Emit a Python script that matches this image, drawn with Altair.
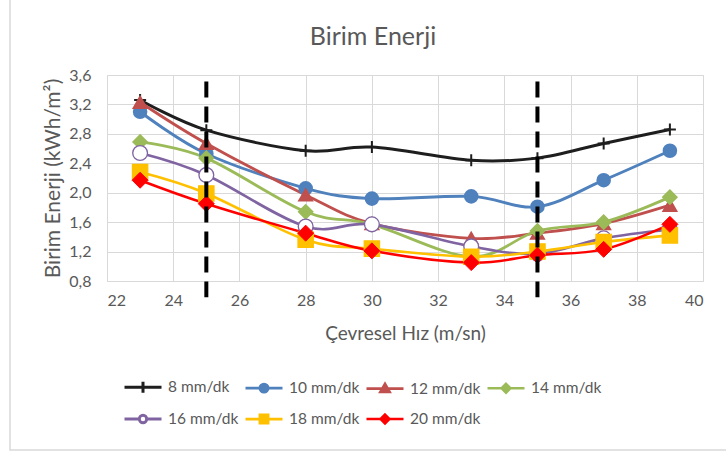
import altair as alt
import pandas as pd

speeds = [23, 25, 28, 30, 33, 35, 37, 39]
series = ["8 mm/dk", "10 mm/dk", "12 mm/dk", "14 mm/dk", "16 mm/dk", "18 mm/dk", "20 mm/dk"]
v8 = [3.26, 2.85, 2.57, 2.62, 2.44, 2.47, 2.67, 2.86]
v10 = [3.10, 2.53, 2.06, 1.92, 1.95, 1.81, 2.17, 2.57]
v12 = [3.23, 2.67, 1.97, 1.58, 1.38, 1.45, 1.58, 1.83]
v14 = [2.69, 2.47, 1.74, 1.57, 1.13, 1.48, 1.60, 1.94]
v16 = [2.54, 2.24, 1.54, 1.57, 1.27, 1.17, 1.38, 1.50]
v18 = [2.28, 1.99, 1.36, 1.24, 1.13, 1.20, 1.33, 1.42]
v20 = [2.17, 1.85, 1.45, 1.21, 1.05, 1.15, 1.23, 1.57]
limits = [25, 35]
y_ticks = [0.8, 1.2, 1.6, 2.0, 2.4, 2.8, 3.2, 3.6]
x_ticks = [22, 24, 26, 28, 30, 32, 34, 36, 38, 40]

values = [v8, v10, v12, v14, v16, v18, v20]
rows = []
for s, vals in zip(series, values):
    for sp, v in zip(speeds, vals):
        rows.append({"series": s, "speed": sp, "value": v})
df = pd.DataFrame(rows)
lim_df = pd.DataFrame({"speed": limits})

# styles
colors = ["#1e1e1e", "#4f81bd", "#c0504d", "#9bbb59", "#8064a2", "#ffc000", "#ff0000"]
fills = ["#1e1e1e", "#4f81bd", "#c0504d", "#9bbb59", "#ffffff", "#ffc000", "#ff0000"]
line_widths = [3, 2.5, 2.5, 2.5, 2.5, 4, 4]
marker_shapes = ["M0,-1L0,1M-1,0L1,0", "circle", "triangle-up", "diamond", "circle", "square", "diamond"]
marker_sizes = [144, 256, 240, 180, 180, 256, 200]
marker_strokes = [2, 1, 1, 1, 2, 1, 1]

LINE = "M-1,0L1,0"
legend_shapes = [
    LINE + "M0,-0.3L0,0.3",
    LINE + "M0.22,0A0.22,0.22 0 1,1 -0.22,0A0.22,0.22 0 1,1 0.22,0Z",
    LINE + "M0,-0.26L0.25,0.18L-0.25,0.18Z",
    LINE + "M0,-0.24L0.24,0L0,0.24L-0.24,0Z",
    "M-1,0L-0.2,0M0.2,0L1,0M0.2,0A0.2,0.2 0 1,1 -0.2,0A0.2,0.2 0 1,1 0.2,0Z",
    LINE + "M-0.22,-0.22L0.22,-0.22L0.22,0.22L-0.22,0.22Z",
    LINE + "M0,-0.24L0.24,0L0,0.24L-0.24,0Z",
]
legend_widths = [3, 2.5, 2.5, 2.5, 2.5, 4, 4]

# the legend fills its grid column by column: order entries so rows read 8,10,12,14 / 16,18,20
legend_order = [0, 4, 1, 5, 2, 6, 3]
leg_domain = [series[i] for i in legend_order]
leg_fills = [fills[i] for i in legend_order]
leg_colors = [colors[i] for i in legend_order]
leg_shapes = [legend_shapes[i] for i in legend_order]
leg_widths = [legend_widths[i] for i in legend_order]

FONT = "Lato"
GRAY = "#595959"

x_enc = alt.X("speed:Q", title="Çevresel Hız (m/sn)",
              scale=alt.Scale(domain=[22, 40], nice=False, zero=False),
              axis=alt.Axis(values=x_ticks, tickCount=len(x_ticks), labelPadding=11, titlePadding=16,
                            tickSize=0, domain=False,
                            gridColor="#d9d9d9", labelFontSize=16, titleFontSize=19,
                            labelColor=GRAY, titleColor=GRAY, titleFontWeight="normal",
                            labelFont=FONT, titleFont=FONT, labelOverlap=False))
y_enc = alt.Y("value:Q", title="Birim Enerji (kWh/m²)",
              scale=alt.Scale(domain=[0.8, 3.6], nice=False, zero=False),
              axis=alt.Axis(values=y_ticks, tickCount=len(y_ticks), labelPadding=16, titlePadding=5,
                            tickSize=0, domain=False,
                            labelExpr="replace(format(datum.value, '.1f'), '.', ',')",
                            gridColor="#d9d9d9", labelFontSize=16, titleFontSize=21,
                            labelColor=GRAY, titleColor=GRAY, titleFontWeight="normal",
                            labelFont=FONT, titleFont=FONT, labelOverlap=False))

frame = alt.Chart(alt.Data(values=[{"f": 1}])).mark_rect(
    fillOpacity=0, stroke="#d9d9d9", strokeWidth=1.5
).encode(x=alt.value(-97), x2=alt.value(640), y=alt.value(-77), y2=alt.value(375))

lines = alt.Chart(df).mark_line(interpolate="cardinal").encode(
    x=x_enc, y=y_enc,
    color=alt.Color("series:N", scale=alt.Scale(domain=series, range=colors), legend=None),
    strokeWidth=alt.StrokeWidth("series:N", scale=alt.Scale(domain=series, range=line_widths), legend=None),
    order=alt.Order("speed:Q"),
)

points = alt.Chart(df).mark_point(filled=True, opacity=1).encode(
    x=x_enc, y=y_enc,
    fill=alt.Fill("series:N", scale=alt.Scale(domain=series, range=fills), legend=None),
    stroke=alt.Stroke("series:N", scale=alt.Scale(domain=series, range=colors), legend=None),
    shape=alt.Shape("series:N", scale=alt.Scale(domain=series, range=marker_shapes), legend=None),
    size=alt.Size("series:N", scale=alt.Scale(domain=series, range=marker_sizes), legend=None),
    strokeWidth=alt.StrokeWidth("series:N", scale=alt.Scale(domain=series, range=marker_strokes), legend=None),
)

rules = alt.Chart(lim_df).mark_rule(color="black", strokeWidth=4, strokeDash=[16, 9]).encode(
    x=x_enc, y=alt.datum(3.51), y2=alt.datum(0.58)
)

leg = alt.Legend(title=None, orient="none", legendX=16, legendY=292, columns=4,
                 symbolSize=1369, labelFontSize=15.5, labelColor=GRAY, labelFont=FONT,
                 labelOffset=5, columnPadding=0, rowPadding=0, gridAlign="all", padding=0,
                 symbolOpacity=1)

legend_layer = alt.Chart(df).transform_filter("datum.speed < 0").mark_point(filled=True, opacity=1).encode(
    x=x_enc, y=y_enc,
    fill=alt.Fill("series:N", scale=alt.Scale(domain=leg_domain, range=leg_fills), legend=leg),
    stroke=alt.Stroke("series:N", scale=alt.Scale(domain=leg_domain, range=leg_colors), legend=leg),
    shape=alt.Shape("series:N", scale=alt.Scale(domain=leg_domain, range=leg_shapes), legend=leg),
    strokeWidth=alt.StrokeWidth("series:N", scale=alt.Scale(domain=leg_domain, range=leg_widths), legend=leg),
)

chart = alt.layer(frame, lines, points, rules, legend_layer).resolve_scale(
    color="independent", fill="independent", stroke="independent", shape="independent",
    strokeWidth="independent", size="independent"
).properties(
    width=596, height=206,
    padding={"left": 107, "top": 75, "right": 23, "bottom": 173},
    autosize=alt.AutoSizeParams(type="none"),
    title=alt.Title("Birim Enerji", fontSize=25, color=GRAY, font=FONT, fontWeight="normal",
                    anchor="middle", frame="group", dx=-32, baseline="alphabetic", offset=-73),
).configure_view(stroke="#d9d9d9", strokeWidth=1).configure_axis(
    labelOverlap=False
).configure(background="white")

chart.save("out.html", embed_options={"renderer": "svg", "actions": False})
